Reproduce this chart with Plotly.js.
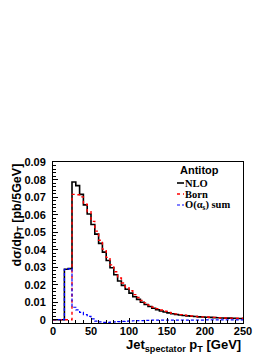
<!DOCTYPE html>
<html>
<head>
<meta charset="utf-8">
<script src="https://cdn.plot.ly/plotly-3.0.1.min.js"></script>
<style>
html,body{margin:0;padding:0;background:#fff;}
#chart{width:274px;height:355px;}
</style>
</head>
<body>
<div id="chart"></div>
<script>
// bin edges (GeV), 5 GeV bins from 0 to 250
const binEdges = [0,5,10,15,20,25,30,35,40,45,50,55,60,65,70,75,80,85,90,95,100,105,110,115,120,125,130,135,140,145,150,155,160,165,170,175,180,185,190,195,200,205,210,215,220,225,230,235,240,245,250];

const nlo = [0,0,0,0.0288,0.0292,0.0787,0.0766,0.0716,0.0656,0.0604,
  0.0544,0.0489,0.0436,0.0386,0.0338,0.0297,0.0257,0.0221,0.0196,0.0174,
  0.0152,0.0131,0.0116,0.0100,0.0087,0.0075,0.0065,0.0057,0.0050,0.0044,
  0.0039,0.0034,0.0030,0.0027,0.0024,0.0022,0.0020,0.0018,0.0016,0.0015,
  0.0014,0.0013,0.0012,0.0011,0.0010,0.0009,0.0009,0.0008,0.0007,0.0007];

const born = [0,0,0,0,0,0.0716,0.0714,0.0702,0.0660,0.0617,
  0.0562,0.0506,0.0454,0.0403,0.0356,0.0313,0.0274,0.0238,0.0210,0.0187,
  0.0165,0.0143,0.0127,0.0110,0.0096,0.0083,0.0072,0.0063,0.0055,0.0048,
  0.0042,0.0037,0.0033,0.0029,0.0026,0.0024,0.0021,0.0019,0.0017,0.0016,
  0.0015,0.0014,0.0013,0.0012,0.0011,0.0010,0.0009,0.0009,0.0008,0.0008];

const alphaS = [0,0,0,0.0288,0.0292,0.0071,0.0056,0.0042,0.0029,0.0019,
  0.0005,-0.0008,-0.0013,-0.0015,-0.0015,-0.0014,-0.0013,-0.0011,-0.0010,-0.0008,
  -0.0007,-0.0006,-0.0005,-0.0005,-0.0004,-0.0004,-0.0003,-0.0003,-0.0003,-0.0003,
  -0.0002,-0.0002,-0.0002,-0.0002,-0.0002,-0.0002,-0.0002,-0.0002,-0.0002,-0.0002,
  -0.0001,-0.0001,-0.0001,-0.0001,-0.0001,-0.0001,-0.0001,-0.0001,-0.0001,-0.0001];

const yTickVals = [0,0.01,0.02,0.03,0.04,0.05,0.06,0.07,0.08,0.09];
const yTickText = ['0','0.01','0.02','0.03','0.04','0.05','0.06','0.07','0.08','0.09'];
const xTickVals = [0,50,100,150,200,250];
const xTickText = ['0','50','100','150','200','250'];

function stepY(v){ return v.concat([v[v.length-1]]); }

const sans = 'Liberation Sans, Arial, Helvetica, sans-serif';
const serif = 'Liberation Serif, Times New Roman, serif';

const traces = [
  {x: binEdges, y: stepY(nlo), type:'scatter', mode:'lines', line:{shape:'hv', color:'#000000', width:1.6}, name:'NLO', showlegend:false},
  {x: binEdges, y: stepY(born), type:'scatter', mode:'lines', line:{shape:'hv', color:'#ff0000', width:1.4, dash:'dot'}, name:'Born', showlegend:false},
  {x: binEdges, y: stepY(alphaS), type:'scatter', mode:'lines', line:{shape:'hv', color:'#0000ff', width:1.2, dash:'3px,2px'}, name:'O(αs) sum', showlegend:false}
];

// paper coordinate helpers: plot area x 53..243, y 162..323 (px)
const px = v => (v-53)/190;
const py = v => (323-v)/161;

const layout = {
  width:274, height:355,
  margin:{l:53, r:31, t:162, b:32, pad:0},
  paper_bgcolor:'#ffffff', plot_bgcolor:'#ffffff',
  showlegend:false,
  xaxis:{
    range:[0,250], showgrid:false, zeroline:false,
    showline:true, mirror:true, linecolor:'#000', linewidth:1,
    ticks:'inside', ticklen:5, tickcolor:'#000',
    tickvals:xTickVals, ticktext:xTickText,
    ticklabelstandoff:-2,
    tickfont:{family:sans, size:11, color:'#000', weight:'bold'},
    minor:{dtick:10, ticks:'inside', ticklen:3, tickcolor:'#000'}
  },
  yaxis:{
    range:[-0.0019, 0.0901], showgrid:false, zeroline:false,
    showline:true, mirror:true, linecolor:'#000', linewidth:1,
    ticks:'inside', ticklen:5, tickcolor:'#000',
    tickvals:yTickVals, ticktext:yTickText,
    ticklabelstandoff:4,
    tickfont:{family:sans, size:11, color:'#000', weight:'bold'},
    minor:{dtick:0.002, ticks:'inside', ticklen:3, tickcolor:'#000'}
  },
  annotations:[
    {xref:'paper', yref:'paper', x:px(17), y:1.0, xanchor:'center', yanchor:'top', textangle:-90,
     text:'dσ/dp<sub>T</sub> [pb/5GeV]', showarrow:false, font:{family:sans, size:12.5, color:'#000', weight:'bold'}},
    {xref:'paper', yref:'paper', x:1.0, y:py(335), xanchor:'right', yanchor:'top',
     text:'Jet<sub>spectator</sub> p<sub>T</sub> [GeV]', showarrow:false, font:{family:sans, size:13, color:'#000', weight:'bold'}},
    {xref:'paper', yref:'paper', x:px(179), y:py(170), xanchor:'left', yanchor:'middle', borderpad:0,
     text:'Antitop', showarrow:false, font:{family:sans, size:11, color:'#000', weight:'bold'}},
    {xref:'paper', yref:'paper', x:px(184), y:py(183), xanchor:'left', yanchor:'middle', borderpad:0,
     text:'NLO', showarrow:false, font:{family:serif, size:10.5, color:'#000', weight:'bold'}},
    {xref:'paper', yref:'paper', x:px(184), y:py(194), xanchor:'left', yanchor:'middle', borderpad:0,
     text:'Born', showarrow:false, font:{family:serif, size:10.5, color:'#000', weight:'bold'}},
    {xref:'paper', yref:'paper', x:px(184), y:py(205.5), xanchor:'left', yanchor:'middle', borderpad:0,
     text:'O(α<sub>s</sub>) sum', showarrow:false, font:{family:serif, size:10.5, color:'#000', weight:'bold'}}
  ],
  shapes:[
    {type:'line', xref:'paper', yref:'paper', x0:px(177), x1:px(184), y0:py(183), y1:py(183), line:{color:'#000', width:1.6}},
    {type:'line', xref:'paper', yref:'paper', x0:px(177), x1:px(184), y0:py(194), y1:py(194), line:{color:'#ff0000', width:1.4, dash:'dot'}},
    {type:'line', xref:'paper', yref:'paper', x0:px(177), x1:px(184), y0:py(205), y1:py(205), line:{color:'#0000ff', width:1.2, dash:'3px,2px'}}
  ]
};

Plotly.newPlot('chart', traces, layout, {displayModeBar:false, staticPlot:true});
</script>
</body>
</html>
